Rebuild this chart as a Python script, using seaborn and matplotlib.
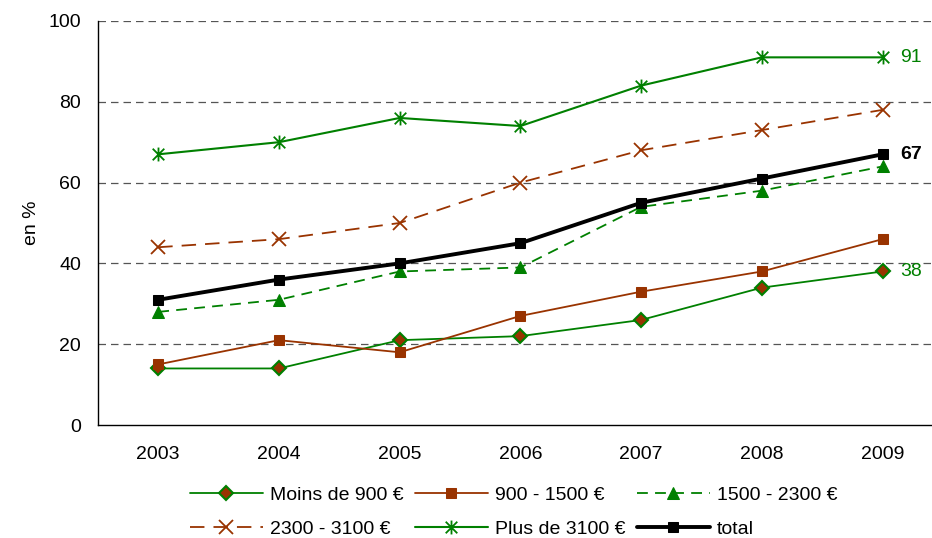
import matplotlib
matplotlib.use("Agg")
import matplotlib.pyplot as plt
from matplotlib.path import Path
import numpy as np
import pandas as pd
import seaborn as sns

# donnees
annees = ["2003", "2004", "2005", "2006", "2007", "2008", "2009"]
moins_900 = [14, 14, 21, 22, 26, 34, 38]
de_900_1500 = [15, 21, 18, 27, 33, 38, 46]
de_1500_2300 = [28, 31, 38, 39, 54, 58, 64]
de_2300_3100 = [44, 46, 50, 60, 68, 73, 78]
plus_3100 = [67, 70, 76, 74, 84, 91, 91]
total = [31, 36, 40, 45, 55, 61, 67]
noms = ["Moins de 900 €", "900 - 1500 €", "1500 - 2300 €",
        "2300 - 3100 €", "Plus de 3100 €", "total"]

VERT = "#008000"
BRUN = "#993300"

# marqueur etoile facon Excel : x + barre verticale
etoile = Path([(-1, -1), (1, 1), (-1, 1), (1, -1), (0, -1.2), (0, 1.2)],
              [Path.MOVETO, Path.LINETO, Path.MOVETO, Path.LINETO,
               Path.MOVETO, Path.LINETO])

styles = {
    "Moins de 900 €": dict(color=VERT, marker="D", markersize=7, markerfacecolor=BRUN,
                           markeredgecolor=VERT, markeredgewidth=1.5, linewidth=1.3),
    "900 - 1500 €": dict(color=BRUN, marker="s", markersize=7, markerfacecolor=BRUN,
                         markeredgecolor=BRUN, linewidth=1.3),
    "1500 - 2300 €": dict(color=VERT, marker="^", markersize=8, markerfacecolor=VERT,
                          markeredgecolor=VERT, linewidth=1.3, dashes=(6, 4)),
    "2300 - 3100 €": dict(color=BRUN, marker="x", markersize=10, markeredgecolor=BRUN,
                          markeredgewidth=1.3, linewidth=1.3, dashes=(8, 5)),
    "Plus de 3100 €": dict(color=VERT, marker=etoile, markersize=10, markeredgecolor=VERT,
                           markeredgewidth=1.3, linewidth=1.5),
    "total": dict(color="black", marker="s", markersize=7, markerfacecolor="black",
                  markeredgecolor="black", linewidth=2.8),
}

series = [moins_900, de_900_1500, de_1500_2300, de_2300_3100, plus_3100, total]
df = pd.DataFrame({
    "annee": np.tile(np.arange(len(annees)), len(noms)),
    "valeur": np.concatenate(series),
    "groupe": np.repeat(noms, len(annees)),
})

sns.set_style("white")
plt.rcParams["font.family"] = ["Liberation Sans", "DejaVu Sans"]
plt.rcParams["text.color"] = "black"

fig = plt.figure(figsize=(9.32, 5.38), dpi=100)
ax = fig.add_axes([0.105, 0.21, 0.895, 0.751])

for nom in noms:
    sub = df[df["groupe"] == nom]
    st = dict(styles[nom])
    dashes = st.pop("dashes", None)
    sns.lineplot(data=sub, x="annee", y="valeur", ax=ax, label=nom, **st)
    if dashes is not None:
        ax.lines[-1].set_dashes(dashes)

FS = 14
ax.set_ylim(0, 100)
ax.set_xlim(-0.5, -0.5 + (932 - 98) / 120.7)
ax.set_yticks(range(0, 101, 20))
ax.set_xticks(range(len(annees)))
ax.set_xticklabels(annees)
ax.set_xticks(np.arange(0.5, len(annees) - 0.5, 1), minor=True)
ax.tick_params(axis="x", which="major", length=0, labelsize=FS, pad=15, labelcolor="black")
ax.tick_params(axis="x", which="minor", length=6, width=1, direction="out", color="black")
ax.tick_params(axis="y", length=5, width=1, direction="out", labelsize=FS, color="black",
               pad=7, labelcolor="black")
for y in range(20, 101, 20):
    ax.axhline(y, color="#555555", linestyle=(0, (6, 4)), linewidth=0.9, zorder=0)

for s in ["top", "right"]:
    ax.spines[s].set_visible(False)
for s in ["left", "bottom"]:
    ax.spines[s].set_color("black")
    ax.spines[s].set_linewidth(1)

ax.set_xlabel("")
ax.set_ylabel("en %", fontsize=FS, labelpad=6, color="black")

ax.annotate(str(plus_3100[-1]), (6, plus_3100[-1]), xytext=(13, 0), textcoords="offset points",
            va="center", fontsize=FS, color=VERT)
ax.annotate(str(total[-1]), (6, total[-1]), xytext=(13, 0), textcoords="offset points",
            va="center", fontsize=FS, color="black", fontweight="bold")
ax.annotate(str(moins_900[-1]), (6, moins_900[-1]), xytext=(13, 0), textcoords="offset points",
            va="center", fontsize=FS, color=VERT)

# ordre du legende par ligne (matplotlib remplit par colonne)
h, l = ax.get_legend_handles_labels()
ax.get_legend().remove()
ordre = [0, 3, 1, 4, 2, 5]
fig.legend([h[i] for i in ordre], [l[i] for i in ordre],
           loc="upper left", bbox_to_anchor=(190 / 932, 1 - 486 / 538), ncol=3, frameon=False,
           fontsize=FS, handlelength=3.75, columnspacing=0.6, handletextpad=0.35,
           labelspacing=0.85, borderpad=0, borderaxespad=0)

fig.savefig("out.png", dpi=100)
